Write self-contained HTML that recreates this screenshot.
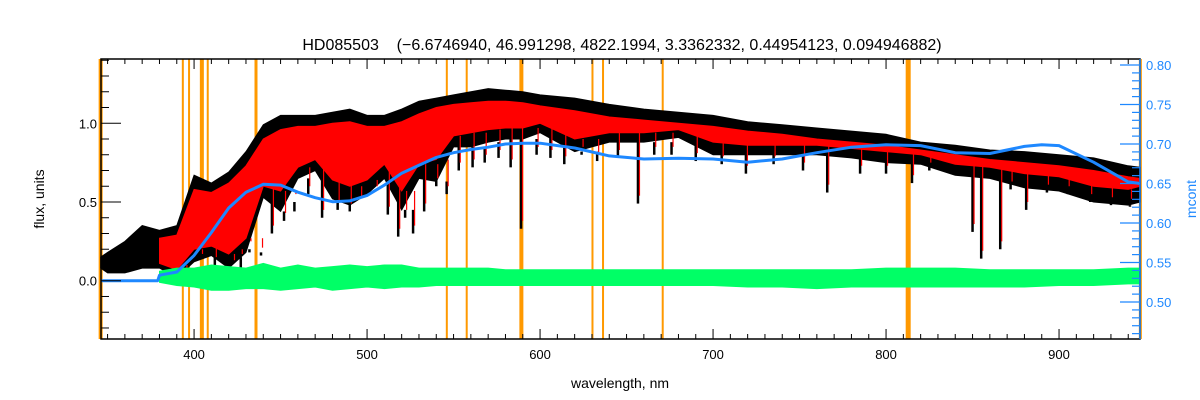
<!DOCTYPE html>
<html><head><meta charset="utf-8">
<style>
html,body{margin:0;padding:0;background:#fff;}
svg{display:block;font-family:"Liberation Sans",sans-serif;}
</style></head>
<body>
<svg id="chart" width="1200" height="400" viewBox="0 0 1200 400" xmlns="http://www.w3.org/2000/svg">
<text x="622" y="50" text-anchor="middle" font-size="16" fill="#000" xml:space="preserve">HD085503    (−6.6746940, 46.991298, 4822.1994, 3.3362332, 0.44954123, 0.094946882)</text>
<text x="620" y="388" text-anchor="middle" font-size="14" fill="#000">wavelength, nm</text>
<text x="0" y="0" transform="translate(44,199) rotate(-90)" text-anchor="middle" font-size="14" fill="#000">flux, units</text>
<text x="0" y="0" transform="translate(1196,199) rotate(-90)" text-anchor="middle" font-size="14" fill="#1e88ff">mcont</text>
<g id="plot"></g>
</svg>
<script>
// ---- data ----
const wl = [346,350,360,370,380,390,400,410,420,430,440,450,460,470,480,490,500,510,520,530,540,550,560,570,580,590,600,620,640,660,680,700,720,740,760,780,800,820,840,860,880,900,920,940,947];
const fluxUpper = [0.15,0.18,0.25,0.35,0.32,0.35,0.67,0.62,0.69,0.82,0.99,1.05,1.05,1.05,1.07,1.09,1.05,1.05,1.09,1.14,1.16,1.18,1.20,1.22,1.21,1.20,1.18,1.16,1.12,1.09,1.07,1.05,1.01,0.99,0.97,0.95,0.93,0.88,0.86,0.83,0.82,0.80,0.78,0.73,0.72];
const fluxLower = [0.08,0.05,0.05,0.08,0.08,0.02,0.12,0.16,0.08,0.18,0.53,0.44,0.65,0.70,0.52,0.48,0.55,0.65,0.45,0.65,0.63,0.85,0.85,0.88,0.90,0.90,0.94,0.82,0.88,0.88,0.91,0.80,0.80,0.80,0.80,0.78,0.75,0.74,0.67,0.65,0.59,0.57,0.50,0.48,0.50];
const modelUpper = [null,null,null,null,0.27,0.29,0.58,0.56,0.62,0.73,0.90,0.96,0.98,0.98,1.00,1.01,0.98,0.98,1.01,1.06,1.10,1.12,1.13,1.14,1.14,1.13,1.11,1.08,1.04,1.02,1.00,0.98,0.95,0.93,0.90,0.88,0.86,0.83,0.80,0.77,0.75,0.73,0.70,0.66,0.65];
const modelLower = [null,null,null,null,0.11,0.07,0.20,0.22,0.17,0.27,0.60,0.57,0.72,0.77,0.64,0.60,0.64,0.74,0.57,0.74,0.77,0.92,0.94,0.96,0.97,0.97,1.00,0.90,0.94,0.94,0.96,0.88,0.86,0.86,0.86,0.84,0.82,0.80,0.74,0.72,0.68,0.66,0.60,0.58,0.60];
const residUpper = [null,null,null,null,0.06,0.08,0.08,0.10,0.09,0.08,0.11,0.08,0.10,0.08,0.09,0.10,0.09,0.10,0.10,0.08,0.08,0.08,0.08,0.08,0.07,0.07,0.07,0.07,0.07,0.07,0.07,0.07,0.07,0.07,0.07,0.07,0.08,0.08,0.08,0.07,0.07,0.07,0.07,0.08,0.08];
const residLower = [null,null,null,null,-0.01,-0.03,-0.04,-0.06,-0.06,-0.05,-0.05,-0.06,-0.05,-0.04,-0.06,-0.05,-0.04,-0.05,-0.04,-0.04,-0.03,-0.03,-0.03,-0.03,-0.03,-0.03,-0.03,-0.03,-0.03,-0.03,-0.03,-0.03,-0.04,-0.04,-0.05,-0.04,-0.04,-0.04,-0.04,-0.04,-0.04,-0.03,-0.03,-0.02,-0.02];
const mcontWl = [346,379,380,390,400,410,420,430,440,450,460,470,480,490,500,510,520,530,540,550,560,570,580,590,600,620,640,660,680,700,720,740,760,780,800,820,840,860,880,890,900,920,940,947];
const mcont = [0.527,0.527,0.534,0.538,0.559,0.588,0.619,0.639,0.649,0.648,0.639,0.632,0.627,0.628,0.635,0.648,0.663,0.673,0.683,0.689,0.693,0.696,0.700,0.701,0.701,0.695,0.685,0.681,0.682,0.681,0.677,0.681,0.689,0.696,0.699,0.698,0.689,0.688,0.697,0.699,0.698,0.677,0.652,0.650];
const lineWl = [395,404,412,422.5,427,432,438.7,445,452,458,466,474,483,490,496,505,512,518,522,526.6,533,540,546,553,561,568,576,583,589,598,606,614,624,633,645,656.6,666,676,690,705,719,735,752,766,785,800,815,825,850,855,866,872,881,893,905,918,930,941];
const lineDepth = [0.05,0.12,0.10,0.08,0.15,0.20,0.16,0.30,0.38,0.50,0.55,0.40,0.45,0.44,0.48,0.55,0.42,0.28,0.40,0.30,0.44,0.60,0.55,0.70,0.72,0.75,0.78,0.72,0.33,0.80,0.78,0.74,0.80,0.76,0.78,0.49,0.80,0.80,0.76,0.74,0.68,0.74,0.70,0.56,0.68,0.68,0.62,0.70,0.31,0.14,0.20,0.58,0.45,0.56,0.55,0.50,0.48,0.47];
const orangeWl = [346,393.5,397.1,404.5,407.9,435.8,546.1,557.6,589.2,630.3,636.4,670.9,812.8,947];
const orangeW = [4,2,2,4,2,3,2,2,4,2,2,2,5,3];
const xTicks = [400,500,600,700,800,900];
const yTicks = ["0.0","0.5","1.0"];
const rTicks = ["0.50","0.55","0.60","0.65","0.70","0.75","0.80"];

// ---- axes ----
const L=101,R=1140,T=59,B=339;
const X0=346.2,X1=946.8,Y0=-0.37,Y1=1.408,R0=0.4532,R1=0.8076;
const sx=v=>L+(v-X0)/(X1-X0)*(R-L);
const sy=v=>B-(v-Y0)/(Y1-Y0)*(B-T);
const sr=v=>B-(v-R0)/(R1-R0)*(B-T);
const NS="http://www.w3.org/2000/svg";
const g=document.getElementById('plot');
function mk(tag,attrs){const e=document.createElementNS(NS,tag);for(const k in attrs)e.setAttribute(k,attrs[k]);g.appendChild(e);return e;}
function band(up,lo,col){
  const top=[],bot=[];
  for(let i=0;i<wl.length;i++){ if(up[i]==null)continue; top.push(sx(wl[i]).toFixed(1)+','+sy(up[i]).toFixed(1)); bot.unshift(sx(wl[i]).toFixed(1)+','+sy(lo[i]).toFixed(1)); }
  return mk('polygon',{points:top.concat(bot).join(' '),fill:col,stroke:col,'stroke-width':1});
}
function idx(w){let j=0; while(j<wl.length-1 && wl[j+1]<w) j++; return j;}
// orange markers
for(let i=0;i<orangeWl.length;i++){
  const e=mk('rect',{x:sx(orangeWl[i])-orangeW[i]/2,y:T,width:orangeW[i],height:B-T,fill:'#ff9900'});
  
  
}
// observed flux
let e=band(fluxUpper,fluxLower,'#000');


for(let i=0;i<lineWl.length;i++){
  const j=idx(lineWl[i]);
  const l=mk('line',{x1:sx(lineWl[i]),x2:sx(lineWl[i]),y1:sy(fluxLower[j]),y2:sy(lineDepth[i]),stroke:'#000','stroke-width':2.5});
  
  
}
// model
e=band(modelUpper,modelLower,'#ff0000');


for(let i=0;i<lineWl.length;i++){
  if(lineWl[i]<380) continue;
  const j=idx(lineWl[i]);
  const l=mk('line',{x1:sx(lineWl[i])+1.5,x2:sx(lineWl[i])+1.5,y1:sy(modelLower[j]),y2:sy(lineDepth[i]+0.05),stroke:'#ff0000','stroke-width':1.2});
  
  
}
// residuals
e=band(residUpper,residLower,'#00ff66');


// mcont
const pts=mcontWl.map((w,i)=>sx(w).toFixed(1)+','+sr(mcont[i]).toFixed(1)).join(' ');
e=mk('polyline',{points:pts,fill:'none',stroke:'#1e88ff','stroke-width':3,'stroke-linejoin':'round'});


// frame
e=mk('rect',{x:L,y:T,width:R-L,height:B-T,fill:'none',stroke:'#000','stroke-width':1.5});


mk('line',{x1:R,x2:R,y1:T,y2:B,stroke:'#1e88ff','stroke-width':1.5});
// x ticks
for(let v=350;v<=940;v+=10){
  const maj=v%100===0,len=maj?10:5;
  mk('line',{x1:sx(v),x2:sx(v),y1:B,y2:B-len,stroke:'#000'});
  mk('line',{x1:sx(v),x2:sx(v),y1:T,y2:T+len,stroke:'#000'});
}
xTicks.forEach(v=>{const t=mk('text',{x:sx(v),y:B+20,'text-anchor':'middle','font-size':13,fill:'#000'});t.textContent=v;
  
  });
// y ticks
for(let k=-3;k<=14;k++){
  const v=k/10,maj=k%5===0,len=maj?20:8;
  mk('line',{x1:L,x2:L+len,y1:sy(v),y2:sy(v),stroke:'#000'});
}
yTicks.forEach(s=>{const t=mk('text',{x:97,y:sy(+s)+5,'text-anchor':'end','font-size':13,fill:'#000'});t.textContent=s;
  
  });
// right ticks
for(let k=46;k<=80;k++){
  const v=k/100,maj=k%5===0,len=maj?20:8;
  mk('line',{x1:R,x2:R-len,y1:sr(v),y2:sr(v),stroke:'#1e88ff','stroke-width':1.2});
}
rTicks.forEach(s=>{const t=mk('text',{x:1146,y:sr(+s)+5,'text-anchor':'start','font-size':13,fill:'#1e88ff'});t.textContent=s;
  
  });
</script>
</body></html>
